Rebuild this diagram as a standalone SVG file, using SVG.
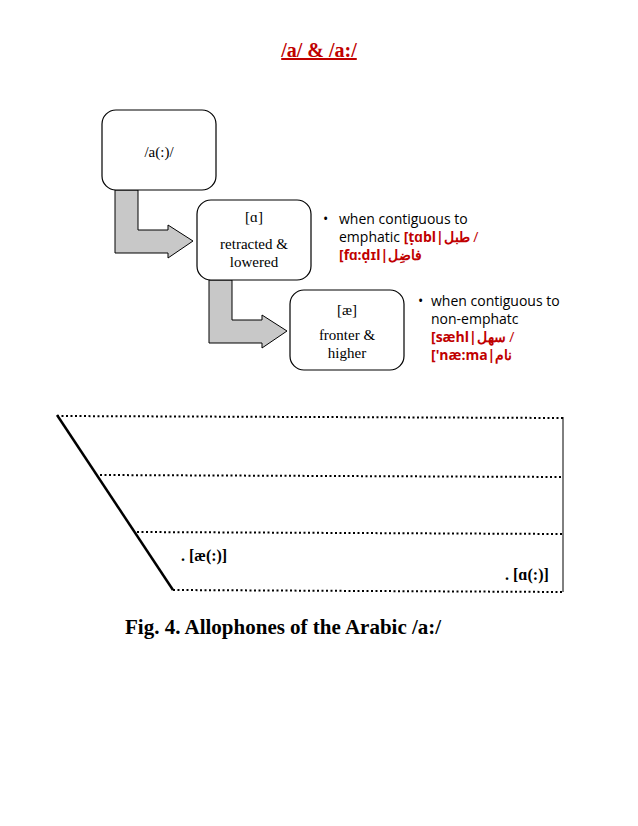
<svg xmlns="http://www.w3.org/2000/svg" width="638" height="826" viewBox="0 0 638 826">
<style>
.box{fill:#fff;stroke:#000;stroke-width:1.2}
.arr{fill:#c8c8c8;stroke:#000;stroke-width:1}
.s{font-family:"Liberation Serif",serif;font-size:15px;text-anchor:middle}
.b{font-family:"Open Sans","Liberation Sans",sans-serif;font-size:14px}
.r{fill:#c00000;font-weight:bold}
.dot{stroke:#000;stroke-width:2;stroke-dasharray:2 2.5}
</style>
<rect width="638" height="826" fill="#fff"/>
<text x="319" y="57" font-family="Liberation Serif,serif" font-size="20" font-weight="bold" fill="#c00000" text-anchor="middle" text-decoration="underline">/a/ &amp; /a:/</text>
<g id="connectors">
<path class="arr" d="M115,190 H138 V230 H168 V225 L193,241 L168,258 V253 H115 Z"/>
<path class="arr" d="M209,280 H232 V320 H262 V315 L287,331 L262,348 V343 H209 Z"/>
</g>
<g id="n1"><rect class="box" x="102" y="110" width="114" height="80" rx="14"/><text class="s" x="159" y="157">/a(:)/</text></g>
<g id="n2"><rect class="box" x="197" y="200" width="114" height="80" rx="14"/><text class="s" x="254" y="222">[ɑ]</text><text class="s" x="254" y="249">retracted &amp;</text><text class="s" x="254" y="267">lowered</text></g>
<g id="n3"><rect class="box" x="290" y="290" width="114" height="80" rx="14"/><text class="s" x="347" y="315">[æ]</text><text class="s" x="347" y="340">fronter &amp;</text><text class="s" x="347" y="358">higher</text></g>
<g id="t1" class="b">
<text x="323" y="224">•</text>
<text x="339" y="224">when contiguous to</text>
<text x="339" y="242">emphatic <tspan class="r">[ṭɑbl|طبل</tspan><tspan fill="#c00000"> /</tspan></text>
<text x="339" y="260" class="r">[fɑ:ḍɪl|فاضِل</text>
</g>
<g id="t2" class="b">
<text x="418" y="306">•</text>
<text x="431" y="306">when contiguous to</text>
<text x="431" y="324">non-emphatc</text>
<text x="431" y="342"><tspan class="r">[sæhl|سهل</tspan><tspan fill="#c00000">  /</tspan></text>
<text x="431" y="360" class="r">['næ:ma|نام</text>
</g>
<g id="chart">
<line class="dot" x1="57" y1="416" x2="563" y2="418"/>
<line class="dot" x1="100" y1="475" x2="563" y2="477"/>
<line class="dot" x1="137" y1="532" x2="563" y2="534"/>
<line class="dot" x1="173" y1="590" x2="563" y2="592"/>
<line x1="563" y1="417" x2="563" y2="592" stroke="#000" stroke-width="1"/>
<line x1="57" y1="415" x2="173" y2="590" stroke="#000" stroke-width="2.5"/>
<text x="181" y="561" font-family="Liberation Serif,serif" font-size="16" font-weight="bold">. [æ(:)]</text>
<text x="505" y="580" font-family="Liberation Serif,serif" font-size="16" font-weight="bold">. [ɑ(:)]</text>
<text x="125" y="634" font-family="Liberation Serif,serif" font-size="21" font-weight="bold">Fig. 4. Allophones of the Arabic /a:/</text>
</g>
</svg>
